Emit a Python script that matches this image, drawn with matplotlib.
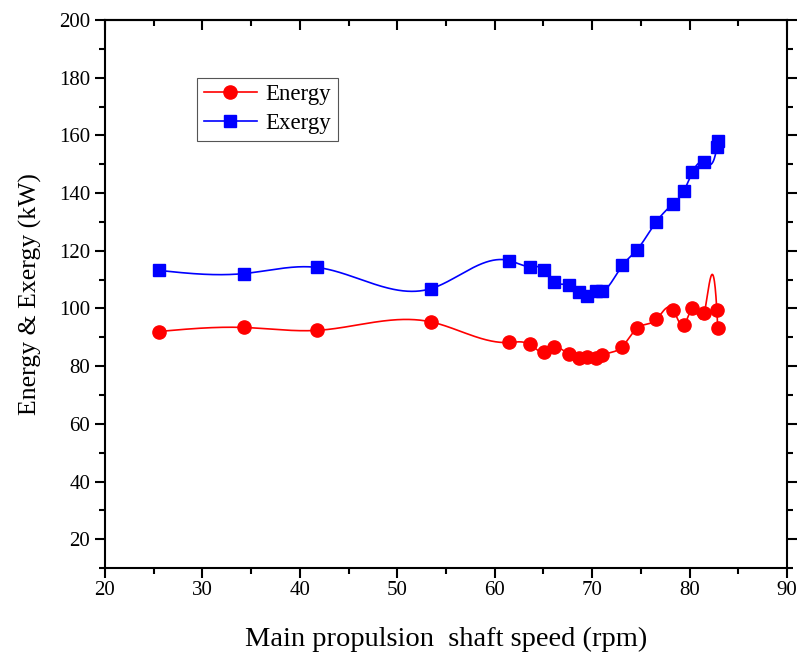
import numpy as np
import matplotlib
matplotlib.use('Agg')
from matplotlib import pyplot as plt
from matplotlib.ticker import MultipleLocator

speed = [25.5, 34.3, 41.8, 53.5, 61.5, 63.6, 65.1, 66.1, 67.6, 68.7, 69.5,
         70.4, 71.0, 73.1, 74.6, 76.6, 78.3, 79.4, 80.3, 81.5, 82.8, 82.9]
energy = [92.0, 93.4, 92.4, 95.3, 88.2, 87.5, 84.8, 86.5, 84.1, 82.8, 83.0,
          82.7, 83.7, 86.8, 93.1, 96.2, 99.6, 94.1, 100.0, 98.3, 99.5, 93.1]
exergy = [113.2, 112.1, 114.2, 106.9, 116.6, 114.5, 113.4, 109.3, 108.2, 105.6, 104.3,
          106.0, 106.0, 114.9, 120.3, 130.1, 136.2, 140.6, 147.3, 150.8, 155.8, 157.9]


def natural_spline(x, y, n=3000):
    x = np.asarray(x, float)
    y = np.asarray(y, float)
    k = len(x)
    h = np.diff(x)
    A = np.zeros((k, k))
    b = np.zeros(k)
    A[0, 0] = A[-1, -1] = 1
    for i in range(1, k - 1):
        A[i, i - 1] = h[i - 1]
        A[i, i] = 2 * (h[i - 1] + h[i])
        A[i, i + 1] = h[i]
        b[i] = 3 * ((y[i + 1] - y[i]) / h[i] - (y[i] - y[i - 1]) / h[i - 1])
    c = np.linalg.solve(A, b)
    xs = np.linspace(x[0], x[-1], n)
    idx = np.clip(np.searchsorted(x, xs) - 1, 0, k - 2)
    dx = xs - x[idx]
    bb = (y[1:] - y[:-1]) / h - h * (2 * c[:-1] + c[1:]) / 3
    dd = (c[1:] - c[:-1]) / (3 * h)
    ys = y[idx] + bb[idx] * dx + c[idx] * dx ** 2 + dd[idx] * dx ** 3
    return xs, ys


plt.rcParams['font.family'] = 'Liberation Serif'

fig = plt.figure(figsize=(8.01, 6.59), dpi=100)
ax = fig.add_axes([0.131, 0.138, 0.8515, 0.8317])

red = '#ff0000'
blue = '#0000ff'
sx, sy = natural_spline(speed, energy)
ax.plot(sx, sy, color=red, lw=1.2)
sx, sy = natural_spline(speed, exergy)
ax.plot(sx, sy, color=blue, lw=1.2)
ax.plot(speed, energy, 'o', color=red, ms=9.5, mec=red)
ax.plot(speed, exergy, 's', color=blue, ms=8.5, mec=blue)

# legend proxies
ax.plot([], [], '-o', color=red, ms=9.5, lw=1.2, label='Energy')
ax.plot([], [], '-s', color=blue, ms=8.5, lw=1.2, label='Exergy')
leg = ax.legend(loc='upper left', bbox_to_anchor=(0.135, 0.895), fontsize=16.5,
                fancybox=False, framealpha=1, edgecolor='#555555',
                handlelength=2.3, borderpad=0.3, labelspacing=0.32,
                handletextpad=0.4, borderaxespad=0)
leg.get_frame().set_linewidth(0.8)

ax.set_xlim(20, 90)
ax.set_ylim(10, 200)
ax.xaxis.set_major_locator(MultipleLocator(10))
ax.xaxis.set_minor_locator(MultipleLocator(5))
ax.yaxis.set_minor_locator(MultipleLocator(10))
ax.set_yticks(np.arange(20, 201, 20))

ax.tick_params(which='both', direction='out', width=1.5, labelsize=15)
ax.tick_params(which='major', length=7)
ax.tick_params(which='minor', length=4)
ax.tick_params(axis='x', which='major', pad=2)
ax.tick_params(axis='y', which='both', right=True)
for s in ax.spines.values():
    s.set_linewidth(1.5)

top = ax.secondary_xaxis('top')
top.xaxis.set_major_locator(MultipleLocator(10))
top.xaxis.set_minor_locator(MultipleLocator(5))
top.tick_params(which='both', direction='in', width=1.5, labeltop=False)
top.tick_params(which='major', length=7)
top.tick_params(which='minor', length=4)
top.spines['top'].set_linewidth(1.5)

ax.set_xlabel('Main propulsion  shaft speed (rpm)', fontsize=20.5, labelpad=20)
ax.set_ylabel('Energy & Exergy (kW)', fontsize=18.5, labelpad=12)

fig.savefig('out.png', dpi=100)
